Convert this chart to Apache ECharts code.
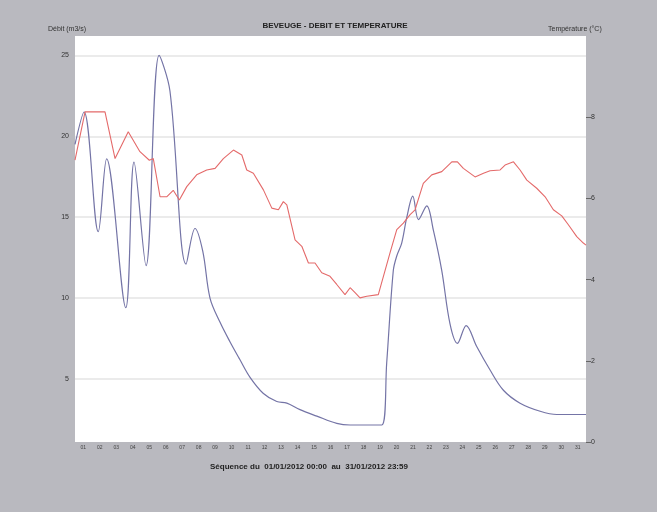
<!DOCTYPE html>
<html>
<head>
<meta charset="utf-8">
<script src="https://cdn.jsdelivr.net/npm/echarts@6/dist/echarts.min.js"></script>
<style>
html,body{margin:0;padding:0;background:#b9b9bf;}
#c{width:657px;height:512px;}
</style>
</head>
<body>
<div id="c"></div>
<script>
// Time in days from 01/01/2012 00:00
var flowDays = [0, 0.55, 1.41, 1.92, 3.08, 3.58, 4.31, 5.10, 5.76, 6.74, 7.28, 7.75, 8.19, 8.80, 9.40, 10.0, 10.62, 11.43, 12.24, 12.85, 13.65, 14.67, 15.88, 16.69, 18.61, 18.91, 19.31, 19.52, 19.82, 20.13, 20.49, 20.84, 21.34, 21.74, 22.25, 22.75, 23.20, 23.73, 24.37, 25.18, 25.99, 27.00, 28.22, 29.23, 30.75, 31.0];
var flowValues = [19.5, 21.5, 14.1, 18.6, 9.4, 18.4, 12.0, 25.0, 22.8, 12.1, 14.3, 12.9, 10.0, 8.5, 7.3, 6.2, 5.1, 4.1, 3.6, 3.5, 3.1, 2.7, 2.25, 2.15, 2.15, 6.0, 11.7, 12.6, 13.4, 15.0, 16.3, 14.85, 15.7, 14.2, 11.7, 8.4, 7.2, 8.3, 7.0, 5.55, 4.3, 3.5, 3.0, 2.8, 2.8, 2.8];

var tempDays = [0, 0.61, 1.82, 2.43, 3.23, 3.94, 4.51, 4.75, 5.16, 5.56, 5.96, 6.33, 6.78, 7.38, 7.99, 8.50, 9.00, 9.61, 10.12, 10.42, 10.82, 11.43, 11.94, 12.34, 12.64, 12.85, 13.35, 13.76, 14.16, 14.56, 14.97, 15.47, 15.88, 16.38, 16.69, 16.99, 17.29, 17.70, 18.40, 18.71, 19.11, 19.52, 19.92, 20.33, 20.63, 21.13, 21.64, 22.25, 22.86, 23.20, 23.56, 24.27, 24.78, 25.18, 25.79, 26.09, 26.60, 27.00, 27.41, 28.01, 28.52, 29.02, 29.53, 29.93, 30.44, 30.84, 31.0];
var tempValues = [6.94, 8.13, 8.13, 6.98, 7.64, 7.15, 6.94, 6.98, 6.04, 6.04, 6.20, 5.96, 6.29, 6.58, 6.70, 6.74, 6.98, 7.19, 7.07, 6.70, 6.62, 6.21, 5.76, 5.72, 5.92, 5.84, 4.98, 4.82, 4.41, 4.41, 4.17, 4.08, 3.88, 3.63, 3.80, 3.68, 3.55, 3.59, 3.63, 4.08, 4.66, 5.23, 5.39, 5.60, 5.72, 6.37, 6.58, 6.66, 6.90, 6.90, 6.74, 6.53, 6.62, 6.68, 6.70, 6.82, 6.90, 6.70, 6.45, 6.25, 6.04, 5.72, 5.57, 5.35, 5.06, 4.90, 4.85];

var flowTicks = [5, 10, 15, 20, 25];
var tempTicks = [0, 2, 4, 6, 8];
var dayLabels = [];
for (var i = 1; i <= 31; i++) dayLabels.push((i < 10 ? '0' : '') + i);
var dayTickPos = dayLabels.map(function (d, i) { return i + 0.5; });

var titleText = 'BEVEUGE - DEBIT ET TEMPERATURE';
var leftName = 'Débit (m3/s)';
var rightName = 'Température (°C)';
var bottomText = 'Séquence du  01/01/2012 00:00  au  31/01/2012 23:59';

function pairs(xs, ys) { return xs.map(function (x, i) { return [x, ys[i]]; }); }

var chart = echarts.init(document.getElementById('c'));
chart.setOption({
  backgroundColor: '#b9b9bf',
  animation: false,
  textStyle: { fontFamily: 'Liberation Sans, Arial, sans-serif' },
  title: {
    text: titleText,
    left: 330, top: 17, textAlign: 'center',
    textStyle: { fontSize: 8, fontWeight: 'bold', color: '#222' }
  },
  graphic: [
    { type: 'text', left: 48, top: 26, style: { text: leftName, fontSize: 7, fill: '#333', fontFamily: 'Liberation Sans, Arial' } },
    { type: 'text', left: 548, top: 26, style: { text: rightName, fontSize: 7, fill: '#333', fontFamily: 'Liberation Sans, Arial' } },
    { type: 'text', left: 210, top: 463, style: { text: bottomText, fontSize: 8, fontWeight: 'bold', fill: '#222', fontFamily: 'Liberation Sans, Arial' } }
  ],
  grid: { left: 75, right: 71, top: 36, bottom: 70, show: true, backgroundColor: '#ffffff', borderWidth: 0 },
  xAxis: {
    type: 'value', min: 0, max: 31,
    axisLine: { show: false },
    axisTick: { show: false },
    splitLine: { show: false },
    axisLabel: {
      customValues: dayTickPos,
      formatter: function (v) { return dayLabels[Math.round(v - 0.5)]; },
      fontSize: 5, color: '#444', margin: 3
    }
  },
  yAxis: [
    {
      type: 'value', min: 1.1, max: 26.2, position: 'left',
      axisLine: { show: false }, axisTick: { show: false },
      splitLine: { show: false },
      axisLabel: { customValues: flowTicks, fontSize: 7, color: '#333', margin: 6 }
    },
    {
      type: 'value', min: 0, max: 10, interval: 2, position: 'right',
      axisLine: { show: false },
      axisTick: { show: true, length: 5, lineStyle: { color: '#666' }, customValues: tempTicks },
      splitLine: { show: false },
      axisLabel: { customValues: tempTicks, fontSize: 7, color: '#333', margin: 5 }
    }
  ],
  series: [
    {
      name: 'Débit', type: 'line', yAxisIndex: 0,
      data: pairs(flowDays, flowValues),
      smooth: 0.35, showSymbol: false,
      lineStyle: { color: '#7474a6', width: 1.2 },
      z: 3,
      markLine: {
        silent: true, symbol: 'none', label: { show: false }, z: 1,
        lineStyle: { color: '#ebebeb', width: 2, type: 'solid' },
        data: flowTicks.map(function (v) { return { yAxis: v }; })
      }
    },
    {
      name: 'Température', type: 'line', yAxisIndex: 1,
      data: pairs(tempDays, tempValues),
      showSymbol: false,
      lineStyle: { color: '#e46a6a', width: 1.1 },
      z: 4
    }
  ]
});
</script>
</body>
</html>
